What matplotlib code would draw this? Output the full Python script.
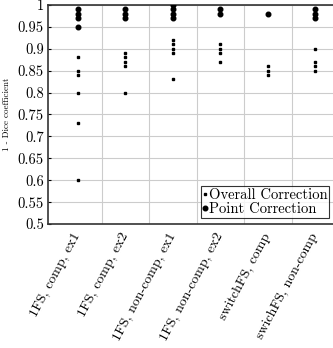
import numpy as np
import matplotlib
matplotlib.use('Agg')
import matplotlib.pyplot as plt
from matplotlib.ticker import FixedLocator

plt.rcParams['font.family'] = 'serif'
plt.rcParams['font.serif'] = ['cmr10', 'DejaVu Serif']
plt.rcParams['axes.formatter.use_mathtext'] = True

# categories and values
categories = ['1FS, comp, ex1', '1FS, comp, ex2', '1FS, non-comp, ex1',
              '1FS, non-comp, ex2', 'switchFS, comp', 'swichFS, non-comp']

overall = [
    [0.88, 0.85, 0.84, 0.80, 0.73, 0.60],
    [0.89, 0.88, 0.87, 0.86, 0.80],
    [0.92, 0.91, 0.90, 0.89, 0.83],
    [0.91, 0.90, 0.89, 0.87],
    [0.86, 0.85, 0.84],
    [0.90, 0.87, 0.86, 0.85],
]
point = [
    [0.99, 0.98, 0.97, 0.95],
    [0.99, 0.98, 0.97],
    [1.00, 0.99, 0.98, 0.97],
    [0.99, 0.98],
    [0.98],
    [0.99, 0.98, 0.97],
]

yticks = np.round(np.arange(0.5, 1.0001, 0.05), 2)
ytick_labels = ['0.5', '0.55', '0.6', '0.65', '0.7', '0.75', '0.8',
                '0.85', '0.9', '0.95', '1']

fig = plt.figure(figsize=(3.33, 3.48), dpi=100)
ax = fig.add_axes([0.144, 0.356, 0.856, 0.630])

for i in range(len(categories)):
    ax.plot([i] * len(overall[i]), overall[i], linestyle='none', marker='s',
            markersize=2.0, color='black',
            label='Overall Correction' if i == 0 else None, zorder=3)
    ax.plot([i] * len(point[i]), point[i], linestyle='none', marker='o',
            markersize=3.3, color='black',
            label='Point Correction' if i == 0 else None, zorder=3)

ax.set_xlim(-0.63, 5.37)
ax.set_ylim(0.5, 1.0)
ax.set_yticks(yticks)
ax.set_yticklabels(ytick_labels, fontsize=10.5)
ax.set_xticks(range(len(categories)))
ax.set_xticklabels(categories, rotation=62, ha='right', va='center',
                   rotation_mode='anchor', fontsize=10)
ax.xaxis.set_minor_locator(FixedLocator(np.arange(0.5, 5.0, 1.0)))
ax.tick_params(axis='x', which='both', length=0, pad=7)
ax.tick_params(axis='y', length=2, direction='in', pad=3)

ax.grid(True, axis='y', color='#cccccc', linewidth=0.8)
ax.grid(True, axis='x', which='minor', color='#cccccc', linewidth=0.8)
ax.set_axisbelow(True)

for side in ['left', 'top', 'bottom']:
    ax.spines[side].set_linewidth(1.2)
    ax.spines[side].set_color('#333333')
ax.spines['right'].set_visible(False)

ax.set_ylabel('1 - Dice coefficient', fontsize=6.5, labelpad=5)

leg = ax.legend(loc='lower right', bbox_to_anchor=(0.985, 0.03), fontsize=10.5,
                frameon=True, fancybox=False, edgecolor='black',
                handlelength=0.25, handletextpad=0.15, borderpad=0.1,
                labelspacing=0.05, borderaxespad=0.0)
leg.get_frame().set_linewidth(0.8)

fig.savefig('out.png', dpi=100)
